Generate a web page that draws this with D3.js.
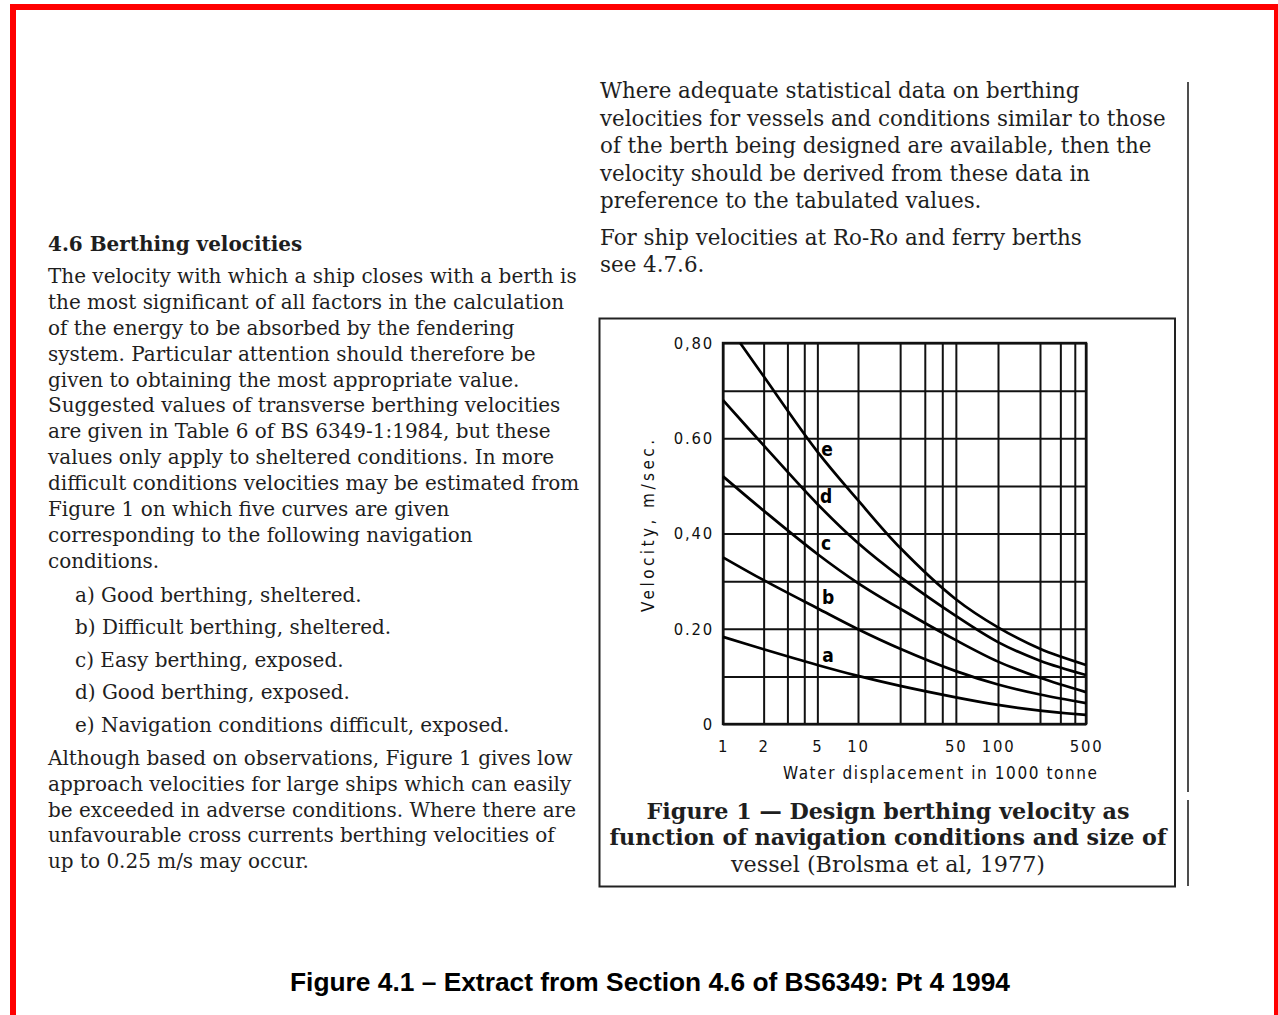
<!DOCTYPE html>
<html><head><meta charset="utf-8">
<script src="https://cdn.jsdelivr.net/npm/d3@7"></script>
<style>body{margin:0;background:#fff}svg{display:block}</style>
</head><body>
<script>
// ---------- data ----------
const displacement = [1, 2, 5, 10, 20, 50, 100, 200, 500];
const curveA = [0.183, 0.157, 0.124, 0.101, 0.080, 0.056, 0.040, 0.028, 0.019];
const curveB = [0.350, 0.302, 0.243, 0.199, 0.158, 0.111, 0.083, 0.062, 0.044];
const curveC = [0.520, 0.448, 0.357, 0.296, 0.242, 0.176, 0.131, 0.097, 0.067];
const curveD = [0.680, 0.585, 0.462, 0.380, 0.309, 0.227, 0.172, 0.133, 0.103];
const displacementE = [1.34, 2, 5, 10, 20, 50, 100, 200, 500];
const curveE = [0.800, 0.730, 0.572, 0.470, 0.370, 0.262, 0.203, 0.158, 0.124];
const curveNames = ["a", "b", "c", "d", "e"];
const labelDisplacement = [6.0, 6.0, 5.8, 5.8, 5.9];
const labelVelocity = [0.145, 0.265, 0.380, 0.477, 0.577];
const xTickValues = [1, 2, 5, 10, 50, 100, 500];
const xTickLabels = ["1", "2", "5", "10", "50", "100", "500"];
const xGridValues = [1, 2, 3, 4, 5, 10, 20, 30, 40, 50, 100, 200, 300, 400, 500];
const yTickValues = [0, 0.2, 0.4, 0.6, 0.8];
const yTickLabels = ["0", "0.20", "0,40", "0.60", "0,80"];
const yGridValues = [0, 0.1, 0.2, 0.3, 0.4, 0.5, 0.6, 0.7, 0.8];
const xTitle = "Water displacement in 1000 tonne";
const yTitle = "Velocity, m/sec.";

const heading = "4.6 Berthing velocities";
const leftPara1 = [
  "The velocity with which a ship closes with a berth is",
  "the most significant of all factors in the calculation",
  "of the energy to be absorbed by the fendering",
  "system. Particular attention should therefore be",
  "given to obtaining the most appropriate value.",
  "Suggested values of transverse berthing velocities",
  "are given in Table 6 of BS 6349-1:1984, but these",
  "values only apply to sheltered conditions. In more",
  "difficult conditions velocities may be estimated from",
  "Figure 1 on which five curves are given",
  "corresponding to the following navigation",
  "conditions."
];
const listItems = [
  "a) Good berthing, sheltered.",
  "b) Difficult berthing, sheltered.",
  "c) Easy berthing, exposed.",
  "d) Good berthing, exposed.",
  "e) Navigation conditions difficult, exposed."
];
const leftPara2 = [
  "Although based on observations, Figure 1 gives low",
  "approach velocities for large ships which can easily",
  "be exceeded in adverse conditions. Where there are",
  "unfavourable cross currents berthing velocities of",
  "up to 0.25 m/s may occur."
];
const rightPara1 = [
  "Where adequate statistical data on berthing",
  "velocities for vessels and conditions similar to those",
  "of the berth being designed are available, then the",
  "velocity should be derived from these data in",
  "preference to the tabulated values."
];
const rightPara2 = [
  "For ship velocities at Ro-Ro and ferry berths",
  "see 4.7.6."
];
const captionLines = [
  "Figure 1 \u2014 Design berthing velocity as",
  "function of navigation conditions and size of",
  "vessel (Brolsma et al, 1977)"
];
const bottomCaption = "Figure 4.1 \u2013 Extract from Section 4.6 of BS6349: Pt 4 1994";

// ---------- layout ----------
const W = 1278, H = 1015;
const svg = d3.select("body").append("svg").attr("width", W).attr("height", H);

// red page border
svg.append("rect").attr("x", 13).attr("y", 7).attr("width", 1264).attr("height", 1100)
  .attr("fill", "none").attr("stroke", "#ff0000").attr("stroke-width", 6);

function fitGroup(g, refText, target, base) {
  const w = refText.node().getComputedTextLength();
  g.attr("font-size", base * target / w);
}
function addLines(g, lines, x, y0, step, anchor) {
  return lines.map((t, i) => g.append("text").attr("x", x).attr("y", y0 + i * step)
    .attr("dy", "0.35em").attr("text-anchor", anchor || "start").text(t));
}

// left column
const gl = svg.append("g").attr("font-family", "DejaVu Serif, serif").attr("font-size", 18).attr("fill", "#1e1e1e");
gl.append("text").attr("x", 48).attr("y", 244).attr("dy", "0.35em").attr("font-weight", "bold").text(heading);
const l1 = addLines(gl, leftPara1, 48, 276, 25.9);
addLines(gl, listItems, 75, 595, 32.5);
addLines(gl, leftPara2, 48, 758, 25.8);
fitGroup(gl, l1[0], 529, 18);

// right column text
const gr = svg.append("g").attr("font-family", "DejaVu Serif, serif").attr("font-size", 18).attr("fill", "#1e1e1e");
const r1 = addLines(gr, rightPara1, 600, 91, 27.5);
addLines(gr, rightPara2, 600, 238, 27);
fitGroup(gr, r1[1], 566, 18);

// right-hand rule lines
svg.append("line").attr("x1", 1188).attr("x2", 1188).attr("y1", 82).attr("y2", 792)
  .attr("stroke", "#222").attr("stroke-width", 1.6);
svg.append("line").attr("x1", 1188).attr("x2", 1188).attr("y1", 800).attr("y2", 886)
  .attr("stroke", "#222").attr("stroke-width", 1.6);

// figure frame
svg.append("rect").attr("x", 599.5).attr("y", 318.5).attr("width", 575.5).attr("height", 568)
  .attr("fill", "none").attr("stroke", "#222").attr("stroke-width", 2);

// caption inside frame
const gc = svg.append("g").attr("font-family", "DejaVu Serif, serif").attr("font-size", 20).attr("fill", "#1e1e1e");
const c = addLines(gc, captionLines, 888, 811, 26.5, "middle");
c[0].attr("font-weight", "bold"); c[1].attr("font-weight", "bold");
fitGroup(gc, c[1], 557, 20);

// bottom caption
const gb = svg.append("g").attr("font-family", "Liberation Sans, Arial, sans-serif").attr("font-size", 20)
  .attr("font-weight", "bold").attr("fill", "#000");
const bc = gb.append("text").attr("x", 650).attr("y", 982).attr("dy", "0.35em").attr("text-anchor", "middle").text(bottomCaption);
fitGroup(gb, bc, 720, 20);

// ---------- chart ----------
const plot = {left: 723, right: 1086, top: 343, bottom: 724};
const x = d3.scaleLog().domain([1, 10, 100, 200, 500]).range([723, 858, 998, 1040, 1086]);
const y = d3.scaleLinear().domain([0, 0.8]).range([plot.bottom, plot.top]);
const axisFont = "DejaVu Sans Condensed, DejaVu Sans, sans-serif";

// grid
const gridX = svg.append("g").attr("transform", `translate(0,${plot.bottom})`)
  .call(d3.axisBottom(x).tickValues(xGridValues).tickSize(-(plot.bottom - plot.top)).tickFormat(""));
const gridY = svg.append("g").attr("transform", `translate(${plot.left},0)`)
  .call(d3.axisLeft(y).tickValues(yGridValues).tickSize(-(plot.right - plot.left)).tickFormat(""));
[gridX, gridY].forEach(g => {
  g.select(".domain").remove();
  g.selectAll("line").attr("stroke", "#111").attr("stroke-width", 2);
});

// plot frame
svg.append("rect").attr("x", plot.left).attr("y", plot.top)
  .attr("width", plot.right - plot.left).attr("height", plot.bottom - plot.top)
  .attr("fill", "none").attr("stroke", "#111").attr("stroke-width", 2.4);

// tick labels
const axX = svg.append("g").attr("transform", `translate(0,${plot.bottom})`)
  .call(d3.axisBottom(x).tickValues(xTickValues).tickSize(0).tickPadding(16)
    .tickFormat(d => xTickLabels[xTickValues.indexOf(d)]));
const axY = svg.append("g").attr("transform", `translate(${plot.left},0)`)
  .call(d3.axisLeft(y).tickValues(yTickValues).tickSize(0).tickPadding(9)
    .tickFormat(d => yTickLabels[yTickValues.indexOf(d)]));
[axX, axY].forEach(g => {
  g.select(".domain").remove();
  g.selectAll("text").attr("font-family", axisFont).attr("font-size", 16.5)
    .attr("font-weight", 500).attr("letter-spacing", 1.8).attr("fill", "#111");
});

// axis titles
svg.append("text").attr("x", 940).attr("y", 773).attr("dy", "0.35em").attr("text-anchor", "middle")
  .attr("font-family", axisFont).attr("font-size", 17).attr("textLength", 314).attr("lengthAdjust", "spacing")
  .attr("fill", "#111").text(xTitle);
svg.append("text").attr("transform", "translate(648,526) rotate(-90)").attr("dy", "0.35em")
  .attr("text-anchor", "middle").attr("font-family", axisFont).attr("font-size", 17)
  .attr("textLength", 172).attr("lengthAdjust", "spacing")
  .attr("fill", "#111").text(yTitle);

// curves
const series = [
  {name: "a", xs: displacement, ys: curveA},
  {name: "b", xs: displacement, ys: curveB},
  {name: "c", xs: displacement, ys: curveC},
  {name: "d", xs: displacement, ys: curveD},
  {name: "e", xs: displacementE, ys: curveE}
];
const line = d3.line().x(d => x(d[0])).y(d => y(d[1])).curve(d3.curveCatmullRom.alpha(0.5));
svg.append("g").selectAll("path").data(series).join("path")
  .attr("d", s => line(s.xs.map((v, i) => [v, s.ys[i]])))
  .attr("fill", "none").attr("stroke", "#000").attr("stroke-width", 2.7);

// curve labels
svg.append("g").selectAll("text").data(curveNames).join("text")
  .attr("x", (d, i) => x(labelDisplacement[i])).attr("y", (d, i) => y(labelVelocity[i]))
  .attr("dy", "0.35em").attr("text-anchor", "middle")
  .attr("font-family", axisFont).attr("font-size", 19).attr("font-weight", "bold").attr("fill", "#000")
  .text(d => d);
</script>
</body></html>
